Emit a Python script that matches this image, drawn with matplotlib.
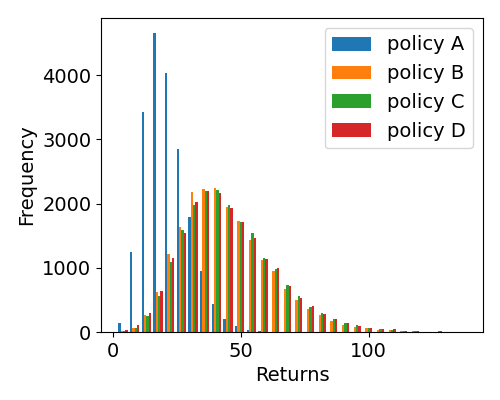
import numpy as np
import matplotlib
matplotlib.use('Agg')
import matplotlib.pyplot as plt

plt.rcParams['font.size'] = 14

# histogram bins (30 bins) and counts per policy
bin_lo, bin_hi, n_bins = 1.7, 138.4, 30
labels = ['policy A', 'policy B', 'policy C', 'policy D']

counts_a = [136, 1243, 3427, 4660, 4036, 2850, 1789, 947, 432, 198,
            90, 30, 10, 0, 0, 0, 0, 0, 0, 0,
            0, 0, 0, 0, 0, 0, 0, 0, 0, 0]
counts_b = [15, 60, 260, 620, 1215, 1635, 2180, 2225, 2240, 1950,
            1735, 1440, 1115, 955, 675, 505, 362, 268, 175, 112,
            80, 60, 30, 30, 15, 15, 0, 0, 0, 0]
counts_c = [15, 60, 245, 560, 1090, 1590, 1975, 2195, 2210, 1985,
            1720, 1550, 1160, 985, 740, 565, 392, 298, 205, 142,
            112, 60, 45, 30, 15, 15, 0, 10, 0, 0]
counts_d = [30, 105, 290, 640, 1150, 1540, 2020, 2195, 2165, 1925,
            1720, 1470, 1145, 1000, 720, 535, 408, 283, 205, 142,
            95, 60, 45, 45, 15, 15, 0, 10, 0, 0]

edges = np.linspace(bin_lo, bin_hi, n_bins + 1)
centers = (edges[:-1] + edges[1:]) / 2

fig = plt.figure(figsize=(5, 4), dpi=100)
ax = fig.add_axes([0.202, 0.17, 0.764, 0.785])
ax.hist([centers] * 4, bins=edges,
        weights=[counts_a, counts_b, counts_c, counts_d], label=labels)
ax.set_xlabel('Returns')
ax.set_ylabel('Frequency')
ax.set_xticks([0, 50, 100])
ax.legend(loc='upper right')

fig.savefig('out.png', dpi=100)
